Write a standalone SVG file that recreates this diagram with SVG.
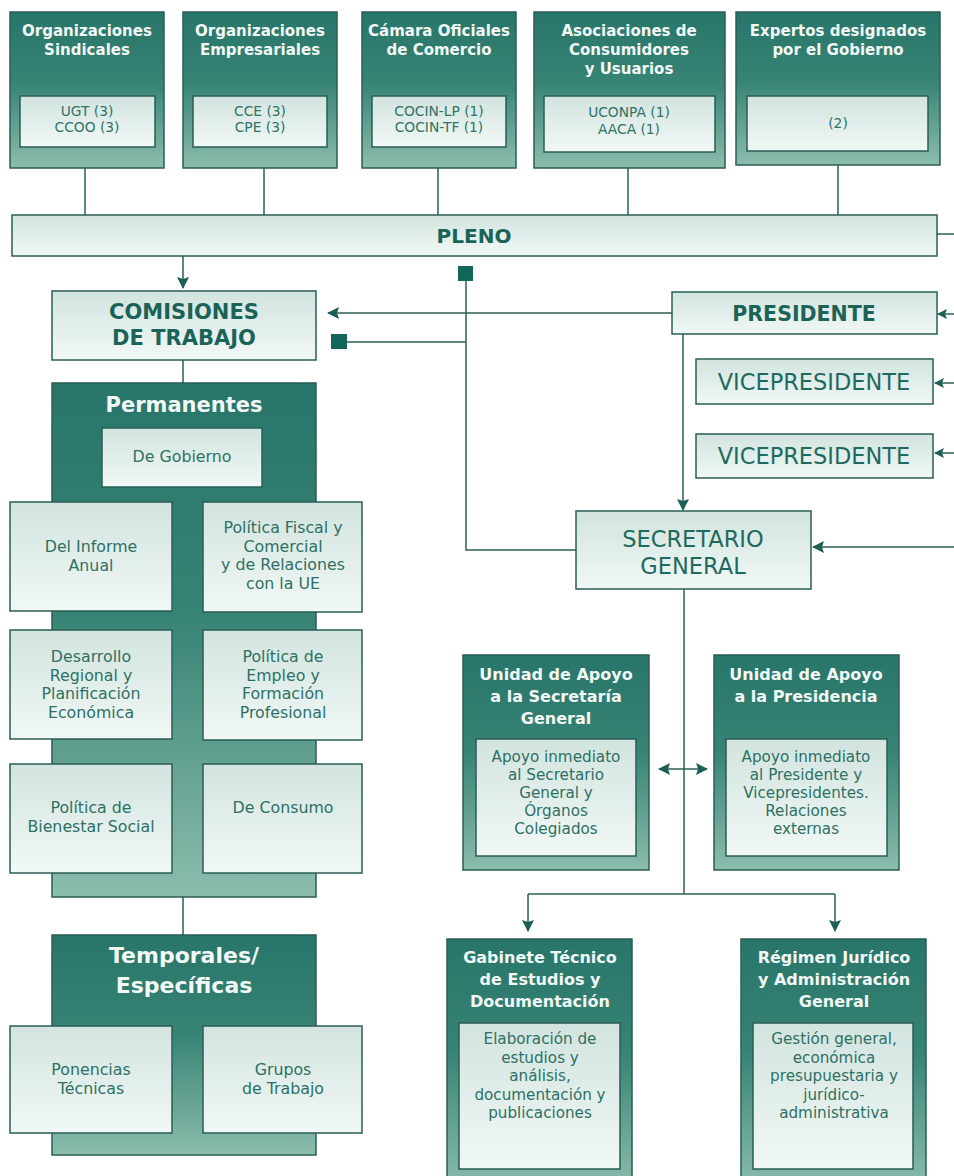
<svg xmlns="http://www.w3.org/2000/svg" width="954" height="1176" viewBox="0 0 954 1176">
<defs>
<linearGradient id="gDark" x1="0" y1="0" x2="0" y2="1">
<stop offset="0" stop-color="#28766a"/>
<stop offset="0.45" stop-color="#378374"/>
<stop offset="1" stop-color="#8cbdad"/>
</linearGradient>
<linearGradient id="gLight" x1="0" y1="0" x2="0" y2="1">
<stop offset="0" stop-color="#d2e4df"/>
<stop offset="1" stop-color="#f1f8f6"/>
</linearGradient>
<marker id="arr" markerWidth="13" markerHeight="12" refX="11" refY="6" orient="auto" markerUnits="userSpaceOnUse">
<path d="M0,0 L12,6 L0,12 L2,6 Z" fill="#1c5f55"/>
</marker>
<marker id="arrS" markerWidth="11" markerHeight="10" refX="9" refY="5" orient="auto" markerUnits="userSpaceOnUse">
<path d="M0,0 L10,5 L0,10 L2,5 Z" fill="#1c5f55"/>
</marker>
<marker id="arrStart" markerWidth="13" markerHeight="12" refX="1" refY="6" orient="auto" markerUnits="userSpaceOnUse">
<path d="M12,0 L0,6 L12,12 L10,6 Z" fill="#1c5f55"/>
</marker>
</defs>
<style>
.dark{fill:url(#gDark);stroke:#2a5d55;stroke-width:1.5}
.light{fill:url(#gLight);stroke:#2a5d55;stroke-width:1.5}
.t{font-family:"DejaVu Sans","Liberation Sans",sans-serif;text-anchor:middle}
.wh{fill:#f2f8f6;font-weight:700;font-size:15px}
.wu{fill:#f2f8f6;font-weight:700;font-size:16px}
.in{fill:#2f7266;font-size:13.8px}
.bd{fill:#1b6357;font-weight:700}
.rg{fill:#2e7064;font-size:15.8px}
.ru{fill:#2e7064;font-size:15.2px}
.ln{stroke:#2d5f57;stroke-width:1.5;fill:none}
.sq{fill:#13665a}
</style>
<rect width="954" height="1176" fill="#ffffff"/>

<g id="connectors">
<line class="ln" x1="85" y1="168" x2="85" y2="215"/>
<line class="ln" x1="264" y1="168" x2="264" y2="215"/>
<line class="ln" x1="438" y1="168" x2="438" y2="215"/>
<line class="ln" x1="628" y1="168" x2="628" y2="215"/>
<line class="ln" x1="838" y1="165" x2="838" y2="215"/>
<line class="ln" x1="937" y1="234" x2="954" y2="234"/>
<line class="ln" x1="183" y1="256" x2="183" y2="288" marker-end="url(#arr)"/>
<rect class="sq" x="458" y="266" width="15" height="15"/>
<polyline class="ln" points="466,281 466,550 576,550"/>
<line class="ln" x1="466" y1="342" x2="347" y2="342"/>
<rect class="sq" x="331" y="334" width="16" height="15"/>
<line class="ln" x1="672" y1="313" x2="328" y2="313" marker-end="url(#arr)"/>
<line class="ln" x1="683" y1="334" x2="683" y2="510" marker-end="url(#arr)"/>
<line class="ln" x1="954" y1="314" x2="938" y2="314" marker-end="url(#arrS)"/>
<line class="ln" x1="954" y1="383" x2="935" y2="383" marker-end="url(#arrS)"/>
<line class="ln" x1="954" y1="453" x2="935" y2="453" marker-end="url(#arrS)"/>
<line class="ln" x1="954" y1="547" x2="813" y2="547" marker-end="url(#arr)"/>
<line class="ln" x1="183" y1="360" x2="183" y2="383"/>
<line class="ln" x1="183" y1="897" x2="183" y2="935"/>
<line class="ln" x1="684" y1="589" x2="684" y2="894"/>
<line class="ln" x1="528" y1="894" x2="835" y2="894"/>
<line class="ln" x1="528" y1="894" x2="528" y2="931" marker-end="url(#arr)"/>
<line class="ln" x1="835" y1="894" x2="835" y2="931" marker-end="url(#arr)"/>
<line class="ln" x1="659" y1="769" x2="707" y2="769" marker-start="url(#arrStart)" marker-end="url(#arr)"/>
</g>

<g id="org-sindicales">
<rect class="dark" x="10" y="12" width="154" height="156"/>
<text class="t wh" x="87" y="36">Organizaciones</text>
<text class="t wh" x="87" y="55">Sindicales</text>
<rect class="light" x="20" y="96" width="135" height="51"/>
<text class="t in" x="87" y="116">UGT (3)</text>
<text class="t in" x="87" y="132">CCOO (3)</text>
</g>
<g id="org-empresariales">
<rect class="dark" x="183" y="12" width="154" height="156"/>
<text class="t wh" x="260" y="36">Organizaciones</text>
<text class="t wh" x="260" y="55">Empresariales</text>
<rect class="light" x="193" y="96" width="134" height="51"/>
<text class="t in" x="260" y="116">CCE (3)</text>
<text class="t in" x="260" y="132">CPE (3)</text>
</g>
<g id="camara">
<rect class="dark" x="362" y="12" width="154" height="156"/>
<text class="t wh" x="439" y="36">Cámara Oficiales</text>
<text class="t wh" x="439" y="55">de Comercio</text>
<rect class="light" x="372" y="96" width="134" height="51"/>
<text class="t in" x="439" y="116">COCIN-LP (1)</text>
<text class="t in" x="439" y="132">COCIN-TF (1)</text>
</g>
<g id="asociaciones">
<rect class="dark" x="534" y="12" width="191" height="156"/>
<text class="t wh" x="629" y="36">Asociaciones de</text>
<text class="t wh" x="629" y="55">Consumidores</text>
<text class="t wh" x="629" y="74">y Usuarios</text>
<rect class="light" x="544" y="96" width="171" height="56"/>
<text class="t in" x="629" y="117">UCONPA (1)</text>
<text class="t in" x="629" y="134">AACA (1)</text>
</g>
<g id="expertos">
<rect class="dark" x="736" y="12" width="204" height="153"/>
<text class="t wh" x="838" y="36">Expertos designados</text>
<text class="t wh" x="838" y="55">por el Gobierno</text>
<rect class="light" x="747" y="96" width="181" height="55"/>
<text class="t in" x="838" y="128">(2)</text>
</g>

<g id="pleno">
<rect class="light" x="12" y="215" width="925" height="41"/>
<text class="t bd" x="474" y="243" font-size="20">PLENO</text>
</g>

<g id="comisiones">
<rect class="light" x="52" y="291" width="264" height="69"/>
<text class="t bd" x="184" y="319" font-size="21">COMISIONES</text>
<text class="t bd" x="184" y="345" font-size="21">DE TRABAJO</text>
</g>

<g id="presidente">
<rect class="light" x="672" y="292" width="265" height="42"/>
<text class="t bd" x="804" y="321" font-size="20.5">PRESIDENTE</text>
</g>
<g id="vicepresidente1">
<rect class="light" x="696" y="359" width="237" height="45"/>
<text class="t" x="814" y="390" font-size="22.5" fill="#1f6a5e">VICEPRESIDENTE</text>
</g>
<g id="vicepresidente2">
<rect class="light" x="696" y="434" width="237" height="44"/>
<text class="t" x="814" y="464" font-size="22.5" fill="#1f6a5e">VICEPRESIDENTE</text>
</g>
<g id="secretario">
<rect class="light" x="576" y="511" width="235" height="78"/>
<text class="t" x="693" y="547" font-size="22.5" fill="#1f6a5e">SECRETARIO</text>
<text class="t" x="693" y="574" font-size="22.5" fill="#1f6a5e">GENERAL</text>
</g>

<g id="permanentes">
<rect class="dark" x="52" y="383" width="264" height="514"/>
<text class="t" x="184" y="412" font-size="21" font-weight="700" fill="#f2f8f6">Permanentes</text>
</g>
<g id="de-gobierno">
<rect class="light" x="102" y="428" width="160" height="59"/>
<text class="t rg" x="182" y="462">De Gobierno</text>
</g>
<g id="informe-anual">
<rect class="light" x="10" y="502" width="162" height="109"/>
<text class="t rg" x="91" y="552">Del Informe</text>
<text class="t rg" x="91" y="570.5">Anual</text>
</g>
<g id="politica-fiscal">
<rect class="light" x="203" y="502" width="159" height="110"/>
<text class="t rg" x="283" y="533">Política Fiscal y</text>
<text class="t rg" x="283" y="551.5">Comercial</text>
<text class="t rg" x="283" y="570">y de Relaciones</text>
<text class="t rg" x="283" y="588.5">con la UE</text>
</g>
<g id="desarrollo-regional">
<rect class="light" x="10" y="630" width="162" height="109"/>
<text class="t rg" x="91" y="662">Desarrollo</text>
<text class="t rg" x="91" y="680.5">Regional y</text>
<text class="t rg" x="91" y="699">Planificación</text>
<text class="t rg" x="91" y="717.5">Económica</text>
</g>
<g id="politica-empleo">
<rect class="light" x="203" y="630" width="159" height="110"/>
<text class="t rg" x="283" y="662">Política de</text>
<text class="t rg" x="283" y="680.5">Empleo y</text>
<text class="t rg" x="283" y="699">Formación</text>
<text class="t rg" x="283" y="717.5">Profesional</text>
</g>
<g id="bienestar-social">
<rect class="light" x="10" y="764" width="162" height="109"/>
<text class="t rg" x="91" y="813">Política de</text>
<text class="t rg" x="91" y="831.5">Bienestar Social</text>
</g>
<g id="de-consumo">
<rect class="light" x="203" y="764" width="159" height="109"/>
<text class="t rg" x="283" y="813">De Consumo</text>
</g>

<g id="temporales">
<rect class="dark" x="52" y="935" width="264" height="220"/>
<text class="t" x="184" y="963" font-size="22" font-weight="700" fill="#f2f8f6">Temporales/</text>
<text class="t" x="184" y="993" font-size="22" font-weight="700" fill="#f2f8f6">Específicas</text>
</g>
<g id="ponencias">
<rect class="light" x="10" y="1026" width="162" height="107"/>
<text class="t rg" x="91" y="1075">Ponencias</text>
<text class="t rg" x="91" y="1093.5">Técnicas</text>
</g>
<g id="grupos">
<rect class="light" x="203" y="1026" width="159" height="107"/>
<text class="t rg" x="283" y="1075">Grupos</text>
<text class="t rg" x="283" y="1093.5">de Trabajo</text>
</g>

<g id="unidad-secretaria">
<rect class="dark" x="463" y="655" width="186" height="215"/>
<text class="t wu" x="556" y="680">Unidad de Apoyo</text>
<text class="t wu" x="556" y="702">a la Secretaría</text>
<text class="t wu" x="556" y="724">General</text>
<rect class="light" x="476" y="739" width="160" height="117"/>
<text class="t ru" x="556" y="762">Apoyo inmediato</text>
<text class="t ru" x="556" y="780">al Secretario</text>
<text class="t ru" x="556" y="798">General y</text>
<text class="t ru" x="556" y="816">Órganos</text>
<text class="t ru" x="556" y="834">Colegiados</text>
</g>
<g id="unidad-presidencia">
<rect class="dark" x="714" y="655" width="185" height="215"/>
<text class="t wu" x="806" y="680">Unidad de Apoyo</text>
<text class="t wu" x="806" y="702">a la Presidencia</text>
<rect class="light" x="726" y="739" width="161" height="117"/>
<text class="t ru" x="806" y="762">Apoyo inmediato</text>
<text class="t ru" x="806" y="780">al Presidente y</text>
<text class="t ru" x="806" y="798">Vicepresidentes.</text>
<text class="t ru" x="806" y="816">Relaciones</text>
<text class="t ru" x="806" y="834">externas</text>
</g>

<g id="gabinete-tecnico">
<rect class="dark" x="447" y="939" width="185" height="250"/>
<text class="t wu" x="540" y="963">Gabinete Técnico</text>
<text class="t wu" x="540" y="985">de Estudios y</text>
<text class="t wu" x="540" y="1007">Documentación</text>
<rect class="light" x="459" y="1023" width="161" height="146"/>
<text class="t ru" x="540" y="1044">Elaboración de</text>
<text class="t ru" x="540" y="1062.5">estudios y</text>
<text class="t ru" x="540" y="1081">análisis,</text>
<text class="t ru" x="540" y="1099.5">documentación y</text>
<text class="t ru" x="540" y="1118">publicaciones</text>
</g>
<g id="regimen-juridico">
<rect class="dark" x="741" y="939" width="185" height="250"/>
<text class="t wu" x="834" y="963">Régimen Jurídico</text>
<text class="t wu" x="834" y="985">y Administración</text>
<text class="t wu" x="834" y="1007">General</text>
<rect class="light" x="753" y="1023" width="160" height="146"/>
<text class="t ru" x="834" y="1044">Gestión general,</text>
<text class="t ru" x="834" y="1062.5">económica</text>
<text class="t ru" x="834" y="1081">presupuestaria y</text>
<text class="t ru" x="834" y="1099.5">jurídico-</text>
<text class="t ru" x="834" y="1118">administrativa</text>
</g>
</svg>
